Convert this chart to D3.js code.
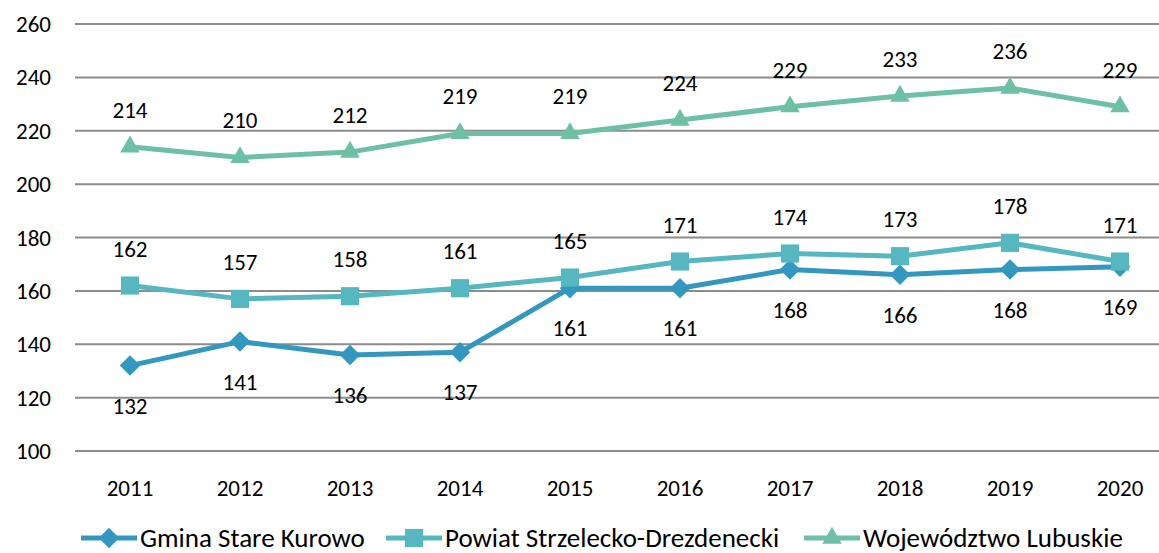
<!DOCTYPE html>
<html>
<head>
<meta charset="utf-8">
<script src="https://cdn.jsdelivr.net/npm/d3@7"></script>
<style>
  body { margin: 0; background: #fff; }
  text { font-family: Carlito, Calibri, Lato, "Open Sans", sans-serif; fill: #000; }
</style>
</head>
<body>
<svg width="1159" height="553"></svg>
<script>
const years = ['2011', '2012', '2013', '2014', '2015', '2016', '2017', '2018', '2019', '2020'];
const gmina = [132, 141, 136, 137, 161, 161, 168, 166, 168, 169];
const powiat = [162, 157, 158, 161, 165, 171, 174, 173, 178, 171];
const wojewodztwo = [214, 210, 212, 219, 219, 224, 229, 233, 236, 229];
const yTicks = [100, 120, 140, 160, 180, 200, 220, 240, 260];

// diamond = square turned 45 degrees
const series = [
    {name: 'Gmina Stare Kurowo', values: gmina, color: '#3397bf', symbol: d3.symbolSquare, size: 210, rotate: 45, label: 'below'},
    {name: 'Powiat Strzelecko-Drezdenecki', values: powiat, color: '#57b7c0', symbol: d3.symbolSquare, size: 330, rotate: 0, label: 'above'},
    {name: 'Województwo Lubuskie', values: wojewodztwo, color: '#6ec0a2', symbol: d3.symbolTriangle, size: 165, rotate: 0, label: 'above'}
];

const svg = d3.select('svg');

const x = d3.scalePoint()
    .domain(years)
    .range([130, 1120]);

const y = d3.scaleLinear()
    .domain([100, 260])
    .range([451, 24]);

// gridlines
svg.append('g')
    .selectAll('line')
    .data(yTicks)
    .enter()
    .append('line')
    .attr('x1', 75)
    .attr('x2', 1175)
    .attr('y1', d => y(d))
    .attr('y2', d => y(d))
    .style('stroke', '#8c8c8c')
    .style('stroke-width', 2);

// y labels
svg.append('g')
    .selectAll('text')
    .data(yTicks)
    .enter()
    .append('text')
    .attr('x', 51)
    .attr('y', d => y(d))
    .attr('dy', '0.35em')
    .attr('text-anchor', 'end')
    .style('font-size', '23px')
    .text(d => d);

// x labels
svg.append('g')
    .selectAll('text')
    .data(years)
    .enter()
    .append('text')
    .attr('x', d => x(d))
    .attr('y', 488)
    .attr('dy', '0.35em')
    .attr('text-anchor', 'middle')
    .style('font-size', '23px')
    .text(d => d);

const line = d3.line()
    .x((d, i) => x(years[i]))
    .y(d => y(d));

series.forEach(s => {
    svg.append('path')
        .datum(s.values)
        .attr('d', line)
        .style('fill', 'none')
        .style('stroke', s.color)
        .style('stroke-width', 5)
        .style('stroke-linejoin', 'round');

    svg.append('g')
        .selectAll('path')
        .data(s.values)
        .enter()
        .append('path')
        .attr('d', d3.symbol().type(s.symbol).size(s.size))
        .attr('transform', (d, i) => 'translate(' + x(years[i]) + ',' + y(d) + ') rotate(' + s.rotate + ')')
        .style('fill', s.color);

    svg.append('g')
        .selectAll('text')
        .data(s.values)
        .enter()
        .append('text')
        .attr('x', (d, i) => x(years[i]))
        .attr('y', d => s.label === 'above' ? y(d) - 37 : y(d) + 40)
        .attr('dy', '0.35em')
        .attr('text-anchor', 'middle')
        .style('font-size', '23px')
        .text(d => d);
});

// legend
const legendX = [81, 386, 804];
const legend = svg.append('g');
series.forEach((s, i) => {
    const g = legend.append('g').attr('transform', 'translate(' + legendX[i] + ',538)');
    g.append('line')
        .attr('x1', 0).attr('x2', 56)
        .style('stroke', s.color)
        .style('stroke-width', 5);
    g.append('path')
        .attr('d', d3.symbol().type(s.symbol).size(s.size))
        .attr('transform', 'translate(28,0) rotate(' + s.rotate + ')')
        .style('fill', s.color);
    g.append('text')
        .attr('x', 59)
        .attr('dy', '0.32em')
        .style('font-size', '27px')
        .text(s.name);
});
</script>
</body>
</html>
